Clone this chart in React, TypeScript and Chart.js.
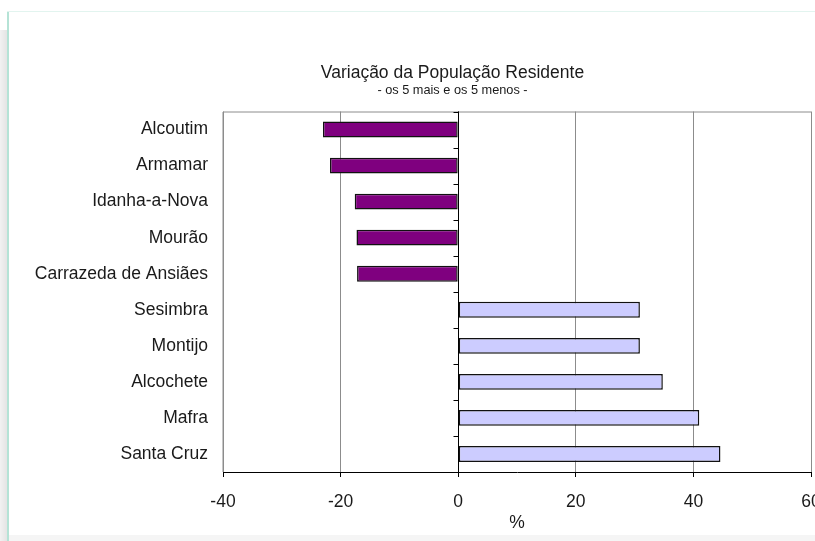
import React, { useEffect, useRef } from "react";
import { Chart, registerables } from "chart.js";

Chart.register(...registerables);

const municipios = [
  "Alcoutim",
  "Armamar",
  "Idanha-a-Nova",
  "Mourão",
  "Carrazeda de Ansiães",
  "Sesimbra",
  "Montijo",
  "Alcochete",
  "Mafra",
  "Santa Cruz",
];
const variacao = [-23.0, -21.8, -17.6, -17.3, -17.2, 30.9, 30.9, 34.8, 41.0, 44.6];
const xMin = -40;
const xMax = 60;
const xStep = 20;

const FONT = "'Liberation Sans', Arial, sans-serif";
const TEXT = "#1a1a1a";

// Excel style: category ticks sit on the zero line, plus a grey box round the plot
const excelAxis = {
  id: "excelAxis",
  beforeDatasetsDraw(chart: Chart) {
    const { ctx, chartArea } = chart;
    ctx.save();
    ctx.strokeStyle = "#8c8c8c";
    ctx.lineWidth = 1;
    ctx.beginPath();
    ctx.moveTo(chartArea.left, chartArea.bottom);
    ctx.lineTo(chartArea.left, chartArea.top + 0.5);
    ctx.lineTo(chartArea.right, chartArea.top + 0.5);
    ctx.stroke();
    ctx.restore();
  },
  afterDatasetsDraw(chart: Chart) {
    const { ctx, chartArea, scales } = chart;
    const x0 = Math.round(scales.x.getPixelForValue(0)) + 0.5;
    const y = scales.y;
    ctx.save();
    ctx.strokeStyle = "#000";
    ctx.lineWidth = 1;
    ctx.beginPath();
    for (let i = 0; i <= municipios.length; i++) {
      let py: number;
      if (i === 0) py = chartArea.top;
      else if (i === municipios.length) py = chartArea.bottom;
      else py = (y.getPixelForValue(i - 1) + y.getPixelForValue(i)) / 2;
      py = Math.round(py) + 0.5;
      ctx.moveTo(x0 - 5, py);
      ctx.lineTo(x0, py);
    }
    ctx.moveTo(x0, chartArea.top);
    ctx.lineTo(x0, chartArea.bottom);
    ctx.stroke();
    ctx.restore();
  },
};

const VariacaoChart: React.FC = () => {
  const chartRef = useRef<HTMLCanvasElement>(null);
  const chartInstance = useRef<Chart>();

  useEffect(() => {
    if (!chartRef.current) return;
    const ctx = chartRef.current.getContext("2d");
    if (!ctx) return;
    if (chartInstance.current) chartInstance.current.destroy();

    chartInstance.current = new Chart(ctx, {
      type: "bar",
      data: {
        labels: municipios,
        datasets: [
          {
            label: "Variação (%)",
            data: variacao,
            backgroundColor: variacao.map((v) => (v < 0 ? "#7f007f" : "#ccccff")),
            borderColor: "#111",
            borderWidth: 1.5,
            borderSkipped: false,
            barPercentage: 0.44,
            categoryPercentage: 1,
          },
        ],
      },
      options: {
        indexAxis: "y",
        animation: false,
        responsive: false,
        maintainAspectRatio: false,
        layout: { padding: 0 },
        plugins: {
          legend: { display: false },
          tooltip: { enabled: false },
          title: {
            display: true,
            text: "Variação da População Residente",
            color: TEXT,
            font: { family: FONT, size: 17.5, weight: "normal", lineHeight: 1 },
            padding: { top: 64.25, bottom: 0 },
          },
          subtitle: {
            display: true,
            text: "- os 5 mais e os 5 menos -",
            color: TEXT,
            font: { family: FONT, size: 12.75, weight: "normal", lineHeight: 1 },
            padding: { top: 2.5, bottom: 14.5 },
          },
        },
        scales: {
          x: {
            min: xMin,
            max: xMax,
            ticks: {
              stepSize: xStep,
              color: TEXT,
              padding: 15,
              font: { family: FONT, size: 17.5 },
            },
            grid: {
              color: (c: any) => (c.tick && c.tick.value === 0 ? "#000" : "#8c8c8c"),
              tickColor: "#000",
              tickLength: 5,
              lineWidth: 1,
            },
            border: { display: true, color: "#000", width: 1 },
            title: {
              display: true,
              text: "%",
              color: TEXT,
              font: { family: FONT, size: 17.5 },
              padding: { top: 0, bottom: 7 },
            },
            afterFit: (scale: any) => {
              scale.height = 69;
            },
          },
          y: {
            ticks: {
              color: TEXT,
              padding: 15,
              font: { family: FONT, size: 17.5 },
            },
            grid: { display: false, drawTicks: false },
            border: { display: false },
            afterFit: (scale: any) => {
              scale.width = 223;
            },
          },
          // empty box on the right so the plot stops at 60 while the title keeps the full width
          spacer: {
            type: "category",
            axis: "y",
            position: "right",
            labels: municipios,
            ticks: { display: false },
            grid: { display: false, drawTicks: false },
            border: { display: false },
            afterFit: (scale: any) => {
              scale.width = 94;
            },
          },
        },
      },
      plugins: [excelAxis],
    });

    return () => {
      if (chartInstance.current) {
        chartInstance.current.destroy();
        chartInstance.current = undefined;
      }
    };
  }, []);

  return <canvas ref={chartRef} width={905} height={541} style={styles.canvas} />;
};

const App: React.FC = () => {
  return (
    <div style={styles.page}>
      <div style={styles.shadow} />
      <div style={styles.frameLeft} />
      <div style={styles.frameTop} />
      <div style={styles.bottomStrip} />
      <VariacaoChart />
    </div>
  );
};

const styles: Record<string, React.CSSProperties> = {
  page: {
    position: "fixed",
    left: 0,
    top: 0,
    width: 815,
    height: 541,
    overflow: "hidden",
    background: "#fff",
  },
  canvas: {
    position: "absolute",
    left: 0,
    top: 0,
    width: 905,
    height: 541,
  },
  shadow: {
    position: "absolute",
    left: 0,
    top: 30,
    width: 7,
    height: 511,
    background: "linear-gradient(to right, #f2f2f2, #e4e4e4)",
  },
  frameLeft: {
    position: "absolute",
    left: 7,
    top: 11,
    width: 2,
    height: 530,
    background: "#b5e3d6",
  },
  frameTop: {
    position: "absolute",
    left: 7,
    top: 11,
    width: 808,
    height: 1,
    background: "#e2f4ef",
  },
  bottomStrip: {
    position: "absolute",
    left: 9,
    top: 535,
    width: 806,
    height: 6,
    background: "#f5f5f5",
  },
};

export default App;
